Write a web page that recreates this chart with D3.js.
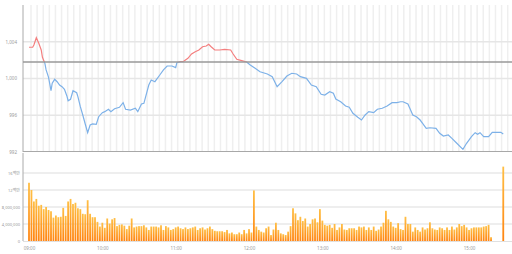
<!DOCTYPE html>
<html>
<head>
<meta charset="utf-8">
<script src="https://cdn.jsdelivr.net/npm/d3@7"></script>
<style>
  body { margin: 0; background: #fff; }
  text { font-family: "Noto Sans", "Noto Sans CJK KR", sans-serif; }
</style>
</head>
<body>
<div id="chart"></div>
<script>
// intraday price (minutes after 09:00) and 2-minute volume

var lineMin = [0, 3, 4, 6, 8, 10, 11, 13, 14, 16, 18, 19, 21, 23, 25, 27, 29, 31, 32, 34,
  36, 39, 40, 42, 44, 46, 48, 50, 52, 55, 57, 60, 62, 65, 67, 70, 74, 77, 79, 83,
  87, 89, 92, 94, 98, 100, 103, 107, 110, 113, 117, 120, 121, 124, 126, 130, 133, 136, 139, 142,
  145, 147, 149, 152, 156, 160, 165, 167, 170, 174, 178, 181, 185, 189, 195, 199, 203, 207, 211, 215,
  219, 222, 227, 231, 235, 239, 242, 246, 249, 251, 255, 259, 262, 265, 269, 272, 275, 278, 282, 285,
  289, 293, 297, 301, 304, 306, 310, 314, 317, 320, 322, 325, 328, 333, 336, 339, 343, 346, 350, 355,
  358, 362, 365, 367, 369, 372, 376, 379, 383, 386, 388];

var linePrice = [1003.40, 1003.40, 1003.65, 1004.44, 1003.83, 1003.10, 1002.31, 1001.65, 1000.93, 1000.13,
  998.67, 999.48, 999.91, 999.65, 999.29, 999.11, 998.82, 998.10, 997.58, 997.74,
  998.67, 998.45, 998.02, 996.93, 996.03, 995.05, 994.10, 994.94, 995.05, 995.01,
  995.84, 996.28, 996.39, 996.65, 996.39, 996.71, 996.87, 997.37, 996.65, 996.57,
  996.76, 996.39, 997.22, 997.30, 999.29, 999.84, 999.65, 1000.38, 1000.93, 1001.36,
  1001.36, 1001.18, 1001.72, 1001.83, 1001.83, 1002.20, 1002.67, 1002.92, 1003.10, 1003.46,
  1003.54, 1003.72, 1003.46, 1003.10, 1003.10, 1003.18, 1003.10, 1002.67, 1002.09, 1001.94,
  1001.80, 1001.47, 1001.11, 1000.74, 1000.49, 1000.20, 999.11, 999.65, 1000.27, 1000.57,
  1000.49, 1000.20, 1000.02, 999.29, 999.11, 998.28, 998.20, 998.56, 998.39, 997.77,
  997.47, 997.01, 996.87, 996.21, 995.78, 995.48, 996.03, 996.39, 996.28, 996.65,
  996.76, 997.01, 997.37, 997.37, 997.47, 997.47, 997.22, 996.03, 995.84, 995.48,
  995.12, 994.58, 994.64, 994.58, 994.04, 993.74, 993.85, 993.49, 992.95, 992.29,
  992.95, 993.67, 994.10, 993.93, 994.10, 993.67, 993.67, 994.14, 994.14, 994.14, 993.96];

var prevClose = 1001.8;

// volume in millions, one bar every 2 minutes from 09:00
var volume = [13.7, 12.0, 9.3, 9.9, 8.3, 8.5, 7.5, 8.0, 7.3, 7.0, 5.5, 6.0, 5.6, 5.7, 7.8, 5.9, 9.3, 9.9, 8.7, 9.0,
  7.7, 7.5, 6.4, 6.3, 9.6, 6.4, 5.6, 5.6, 4.5, 3.4, 4.3, 3.1, 5.3, 4.1, 5.1, 5.4, 3.5, 3.8, 3.9, 3.6,
  2.8, 3.6, 5.3,
  3.2, 3.4, 3.5, 3.5, 3.7, 3.2, 2.6, 3.4, 3.4, 3.4, 3.2, 3.7, 2.6, 3.5, 3.2, 2.6, 2.8, 3.2,
  3.4, 3.0, 2.8, 3.2, 2.8, 3.0, 3.2, 3.4, 2.6, 3.0, 3.2, 2.7, 3.0, 3.4, 2.8,
  2.4, 2.3, 2.3, 2.3, 2.1, 2.6, 1.8, 2.0, 1.6, 1.6, 2.0, 1.6, 2.6, 1.8, 2.8,
  2.0, 11.9,
  3.4, 2.6, 2.2, 2.0, 3.0, 3.4, 1.4, 2.7, 4.3, 2.6, 1.8, 1.6, 1.4, 2.2, 3.5,
  7.7, 6.5, 4.9, 5.7, 4.7, 5.3, 3.4, 4.0, 5.1, 5.3, 4.4, 7.5,
  4.8, 3.8, 3.6,
  3.8, 3.1, 4.0, 2.6, 3.2, 4.0, 2.7, 2.6, 3.0, 3.0, 3.0, 2.6, 3.4, 3.2, 3.4, 2.6, 3.2, 2.6, 3.4, 2.4,
  2.7, 3.4, 4.3, 7.1, 5.1, 4.5, 3.4, 3.1, 4.2, 2.8, 2.6, 5.7, 4.0, 4.0, 2.2, 3.2, 2.6, 2.2, 3.2, 2.7,
  3.0, 4.4, 3.0, 2.7, 2.6, 3.2, 3.0, 2.6, 3.2, 2.6, 3.4, 2.7, 3.2, 4.0, 3.5, 3.8, 3.2, 2.6, 3.0, 3.2,
  3.2, 3.2, 3.2, 3.4, 3.5, 3.8, 0.9];

var closeMin = 388;
var closeVolume = 17.5;

var hourTicks = [0, 60, 120, 180, 240, 300, 360];
var hourLabels = ["09:00", "10:00", "11:00", "12:00", "13:00", "14:00", "15:00"];
var priceTicks = [992, 996, 1000, 1004];
var volTicks = [0, 4e6, 8e6, 12e6, 16e6];
var volLabels = ["0", "4,000,000", "8,000,000", "12백만", "16백만"];

var svgWidth = 512;
var svgHeight = 254;
var left = 23;

var svg = d3.select("#chart").append("svg")
  .attr("width", svgWidth)
  .attr("height", svgHeight);

var x = d3.scaleLinear().domain([0, 390]).range([29, 505.7]);
var yPrice = d3.scaleLinear().domain([992, 1008]).range([152, 5]);
var yVol = d3.scaleLinear().domain([0, 20e6]).range([241, 156]);

// top panel grid
var fiveMin = d3.range(0, 391, 5);
svg.append("g").selectAll("line")
  .data(fiveMin)
  .enter().append("line")
  .attr("x1", d => x(d) + 2).attr("x2", d => x(d) + 2)
  .attr("y1", 5).attr("y2", 151)
  .attr("stroke", "#efefef")
  .attr("stroke-width", 1.5);

svg.append("g").selectAll("line")
  .data(priceTicks.slice(1))
  .enter().append("line")
  .attr("x1", left).attr("x2", svgWidth)
  .attr("y1", d => yPrice(d)).attr("y2", d => yPrice(d))
  .attr("stroke", "#e6e6e6")
  .attr("stroke-width", 1.5);

// price axis
var priceAxis = svg.append("g")
  .attr("transform", `translate(${left},0)`)
  .call(d3.axisLeft(yPrice).tickValues(priceTicks).tickFormat(d3.format(",")).tickSize(0).tickPadding(6));
priceAxis.select(".domain").remove();
priceAxis.selectAll("text").attr("fill", "#999").style("font-size", "4.5px");

svg.append("line")
  .attr("x1", left).attr("x2", left).attr("y1", 5).attr("y2", 152)
  .attr("stroke", "#aaa").attr("stroke-width", 1);

// price line, red above previous close, blue below
var refY = yPrice(prevClose);
var defs = svg.append("defs");
defs.append("clipPath").attr("id", "above")
  .append("rect").attr("x", 0).attr("y", 0).attr("width", svgWidth).attr("height", refY);
defs.append("clipPath").attr("id", "below")
  .append("rect").attr("x", 0).attr("y", refY).attr("width", svgWidth).attr("height", 160 - refY);

var priceLine = d3.line()
  .x((d, i) => x(lineMin[i]))
  .y(d => yPrice(d));

svg.append("path").datum(linePrice)
  .attr("d", priceLine)
  .attr("fill", "none")
  .attr("stroke", "#f47f7f")
  .attr("stroke-width", 1.2)
  .attr("clip-path", "url(#above)");

svg.append("path").datum(linePrice)
  .attr("d", priceLine)
  .attr("fill", "none")
  .attr("stroke", "#7db1e8")
  .attr("stroke-width", 1.2)
  .attr("clip-path", "url(#below)");

svg.append("line")
  .attr("x1", left).attr("x2", svgWidth)
  .attr("y1", refY).attr("y2", refY)
  .attr("stroke", "#999")
  .attr("stroke-width", 1.6);

svg.append("line")
  .attr("x1", left).attr("x2", svgWidth)
  .attr("y1", 151.5).attr("y2", 151.5)
  .attr("stroke", "#a8a8a8")
  .attr("stroke-width", 1.2);

// volume panel
svg.append("g").selectAll("line")
  .data(volTicks.slice(1))
  .enter().append("line")
  .attr("x1", left).attr("x2", svgWidth)
  .attr("y1", d => yVol(d)).attr("y2", d => yVol(d))
  .attr("stroke", "#e8e8e8")
  .attr("stroke-width", 1.5);

var volAxis = svg.append("g")
  .attr("transform", `translate(${left},0)`)
  .call(d3.axisLeft(yVol).tickValues(volTicks).tickFormat((d, i) => volLabels[i]).tickSize(0).tickPadding(3));
volAxis.select(".domain").remove();
volAxis.selectAll("text").attr("fill", "#999").style("font-size", "4px");

svg.append("line")
  .attr("x1", left).attr("x2", left).attr("y1", 153).attr("y2", 241)
  .attr("stroke", "#aaa").attr("stroke-width", 1);

var grad = defs.append("linearGradient")
  .attr("id", "barGrad")
  .attr("x1", 0).attr("x2", 0).attr("y1", 0).attr("y2", 1);
grad.append("stop").attr("offset", "0%").attr("stop-color", "#ffbf45");
grad.append("stop").attr("offset", "100%").attr("stop-color", "#ff8410");

var bars = volume.map((v, i) => ({ min: i * 2, vol: v * 1e6 }));
bars.push({ min: closeMin, vol: closeVolume * 1e6 });

svg.append("g").selectAll("rect")
  .data(bars)
  .enter().append("rect")
  .attr("x", d => x(d.min) - 0.9)
  .attr("width", 1.8)
  .attr("y", d => yVol(d.vol))
  .attr("height", d => yVol(0) - yVol(d.vol))
  .attr("fill", "url(#barGrad)");

svg.append("line")
  .attr("x1", left).attr("x2", svgWidth)
  .attr("y1", 241.5).attr("y2", 241.5)
  .attr("stroke", "#e0e0e0").attr("stroke-width", 1);

// time axis
var timeAxis = svg.append("g")
  .attr("transform", "translate(0,245)")
  .call(d3.axisBottom(x).tickValues(hourTicks).tickFormat((d, i) => hourLabels[i]).tickSize(0).tickPadding(2));
timeAxis.select(".domain").remove();
timeAxis.selectAll("text").attr("fill", "#999").style("font-size", "4.5px");
</script>
</body>
</html>
